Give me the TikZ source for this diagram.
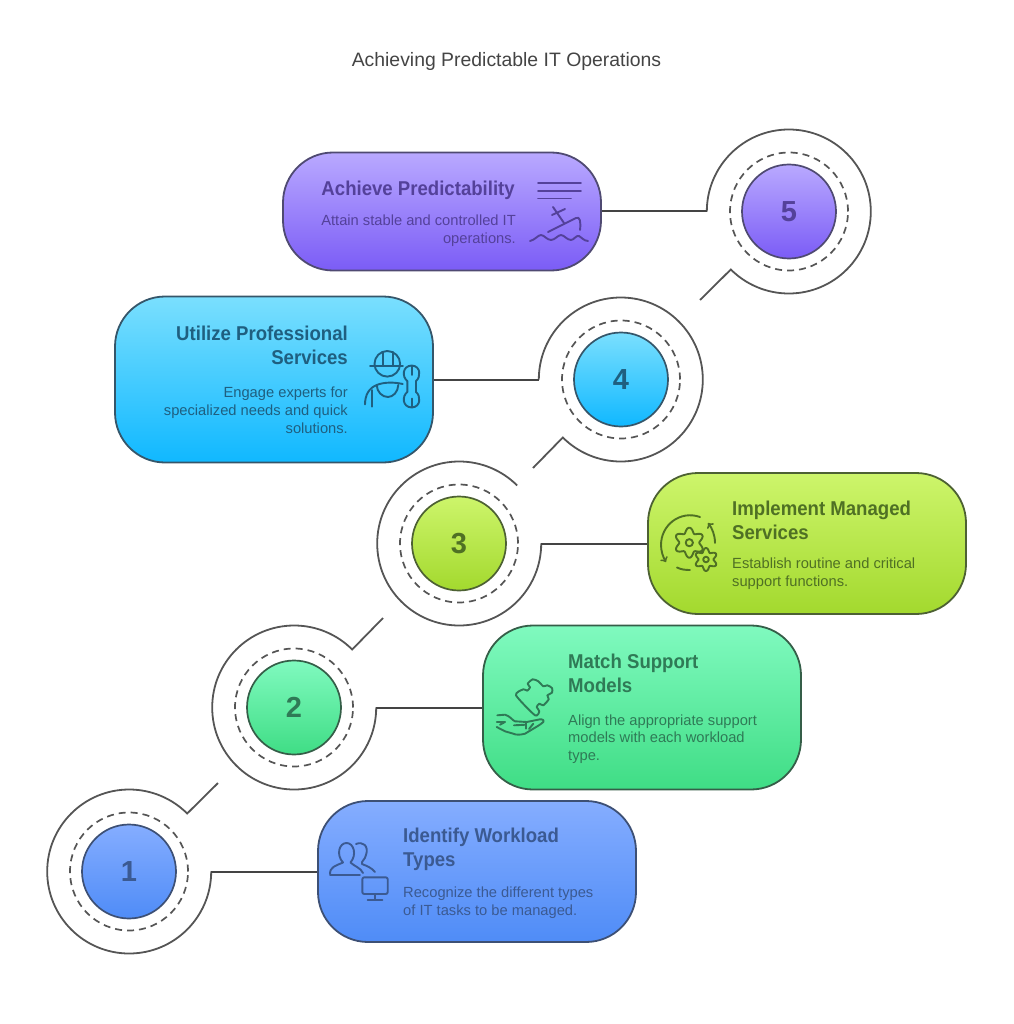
\documentclass[tikz,border=0pt]{standalone}
\usepackage{fontspec}
\setmainfont{Liberation Sans}
\newfontfamily\headfont[FakeStretch=0.93]{Liberation Sans}
\definecolor{ringcolour}{HTML}{555555}
\definecolor{linkcolour}{HTML}{444444}
\definecolor{violettop}{HTML}{B9A9FF}
\definecolor{violetbot}{HTML}{7B5CF6}
\definecolor{violetink}{HTML}{54419A}
\definecolor{violetedge}{HTML}{4F4A72}
\definecolor{skytop}{HTML}{7ADFFE}
\definecolor{skybot}{HTML}{10B8FF}
\definecolor{skyink}{HTML}{1F5F80}
\definecolor{skyedge}{HTML}{35566A}
\definecolor{limetop}{HTML}{CDF56B}
\definecolor{limebot}{HTML}{A3D92E}
\definecolor{limeink}{HTML}{4F7024}
\definecolor{limeedge}{HTML}{4D6133}
\definecolor{minttop}{HTML}{80FABF}
\definecolor{mintbot}{HTML}{3FDD85}
\definecolor{mintink}{HTML}{2F7A56}
\definecolor{mintedge}{HTML}{355E48}
\definecolor{bluetop}{HTML}{85ADFF}
\definecolor{bluebot}{HTML}{4F8CF7}
\definecolor{blueink}{HTML}{3B5A92}
\definecolor{blueedge}{HTML}{3D5075}
\usetikzlibrary{shapes.geometric, arrows}
\tikzstyle{ringspot} = [circle, minimum size=164pt, inner sep=0pt]
\tikzstyle{disc} = [circle, minimum size=94pt, inner sep=0pt, line width=1.7pt, font=\fontsize{29}{29}\selectfont\bfseries]
\tikzstyle{card} = [rectangle, rounded corners=50pt, minimum width=318pt, line width=1.8pt]
\tikzstyle{head} = [inner sep=0pt, font=\fontsize{20}{24}\selectfont\headfont\bfseries]
\tikzstyle{body} = [inner sep=0pt, font=\fontsize{14.7}{17.8}\selectfont]
\tikzstyle{ringline} = [draw=ringcolour, line width=1.8pt]
\tikzstyle{dashring} = [draw=ringcolour, line width=1.7pt, dash pattern=on 7pt off 5pt]
\tikzstyle{link} = [draw=linkcolour, line width=2pt]
\tikzstyle{iconline} = [line width=1.9pt, line cap=round, line join=round]
\newcommand{\gearplot}[5]{\draw [iconline, #5] plot [domain=0:360, samples=145, smooth] ({#1+(#4+(#3-#4)*(0.5-0.5*cos(6*\x)))*cos(\x)}, {#2+(#4+(#3-#4)*(0.5-0.5*cos(6*\x)))*sin(\x)});}
\begin{document}
\begin{tikzpicture}[x=1pt, y=-1pt, node distance=100pt]
	\useasboundingbox (0,0) rectangle (1013,1024);
	\node (title) [inner sep=0pt, text=linkcolour, font=\fontsize{19.4}{22}\selectfont] at (506.5,61) {Achieving Predictable IT Operations};
	
	% rings
	\node (ring1) [ringspot] at (129,871.5) {};
	\node (ring2) [ringspot, right of=ring1, xshift=65pt, yshift=164pt] {};
	\node (ring3) [ringspot, right of=ring2, xshift=65pt, yshift=164pt] {};
	\node (ring4) [ringspot, right of=ring3, xshift=62pt, yshift=164pt] {};
	\node (ring5) [ringspot, right of=ring4, xshift=68pt, yshift=168pt] {};
	\coordinate (tail1) at (218,783);
	\coordinate (tail2) at (383,618);
	\coordinate (tail4) at (533,468);
	\coordinate (tail5) at (700,300);
	\draw [ringline] (ring1.east) arc (0:-315:82pt) -- (tail1);
	\draw [ringline] (ring2.east) arc (0:-315:82pt) -- (tail2);
	\draw [ringline] (ring3.east) arc (0:-315:82pt);
	\draw [ringline] (ring4.west) arc (180:-135:82pt) -- (tail4);
	\draw [ringline] (ring5.west) arc (180:-135:82pt) -- (tail5);
	
	% cards
	\node (card1) [card, right of=ring1, xshift=248pt, minimum height=141pt, top color=bluetop, bottom color=bluebot, draw=blueedge] {};
	\node (card2) [card, right of=ring2, xshift=248pt, minimum height=164pt, top color=minttop, bottom color=mintbot, draw=mintedge] {};
	\node (card3) [card, right of=ring3, xshift=248pt, minimum height=141pt, top color=limetop, bottom color=limebot, draw=limeedge] {};
	\node (card4) [card, left of=ring4, xshift=-247pt, minimum height=166pt, top color=skytop, bottom color=skybot, draw=skyedge] {};
	\node (card5) [card, left of=ring5, xshift=-247pt, minimum height=118pt, top color=violettop, bottom color=violetbot, draw=violetedge] {};
	\draw [link] (ring1.east) -- (card1.west);
	\draw [link] (ring2.east) -- (card2.west);
	\draw [link] (ring3.east) -- (card3.west);
	\draw [link] (ring4.west) -- (card4.east);
	\draw [link] (ring5.west) -- (card5.east);
	
	% discs
	\node (disc1) [disc, top color=bluetop, bottom color=bluebot, draw=blueedge, text=blueink] at (ring1) {1};
	\node (disc2) [disc, top color=minttop, bottom color=mintbot, draw=mintedge, text=mintink] at (ring2) {2};
	\node (disc3) [disc, top color=limetop, bottom color=limebot, draw=limeedge, text=limeink] at (ring3) {3};
	\node (disc4) [disc, top color=skytop, bottom color=skybot, draw=skyedge, text=skyink] at (ring4) {4};
	\node (disc5) [disc, top color=violettop, bottom color=violetbot, draw=violetedge, text=violetink] at (ring5) {5};
	\draw [dashring] (disc1) circle (59pt);
	\draw [dashring] (disc2) circle (59pt);
	\draw [dashring] (disc3) circle (59pt);
	\draw [dashring] (disc4) circle (59pt);
	\draw [dashring] (disc5) circle (59pt);
	
	% texts
	\node (head1) [head, anchor=west, align=left, text=blueink] at (403,849) {Identify Workload\\Types};
	\node (body1) [body, anchor=west, align=left, text=blueink] at (403,903) {Recognize the different types\\of IT tasks to be managed.};
	\node (head2) [head, anchor=west, align=left, text=mintink] at (568,673) {Match Support\\Models};
	\node (body2) [body, anchor=west, align=left, text=mintink] at (568,739) {Align the appropriate support\\models with each workload\\type.};
	\node (head3) [head, anchor=west, align=left, text=limeink] at (732,520) {Implement Managed\\Services};
	\node (body3) [body, anchor=west, align=left, text=limeink] at (732,574) {Establish routine and critical\\support functions.};
	\node (head4) [head, anchor=east, align=right, text=skyink] at (348,345) {Utilize Professional\\Services};
	\node (body4) [body, anchor=east, align=right, text=skyink] at (348,410) {Engage experts for\\specialized needs and quick\\solutions.};
	\node (head5) [head, anchor=east, align=right, text=violetink] at (515,190) {Achieve Predictability};
	\node (body5) [body, anchor=east, align=right, text=violetink] at (516,231) {Attain stable and controlled IT\\operations.};
	
	% ship icon
	\draw [iconline, violetink] (538,183) -- (581,183) (538,191) -- (581,191) (538,198.5) -- (571,198.5);
	\draw [iconline, violetink] (548,232) -- (576,218) .. controls (580,216) and (581,222) .. (580,230);
	\draw [iconline, violetink] (564,223) -- (553,207) (552,215) -- (565,209);
	\draw [iconline, violetink] (530,241) .. controls (535,240) and (538,235) .. (541,235) .. controls (544,235) and (547,240) .. (551,240) .. controls (555,240) and (558,235) .. (561,235) .. controls (564,235) and (567,240) .. (571,240) .. controls (574,240) and (576,235) .. (579,236) .. controls (581,237) and (584,241) .. (588,241);
	
	% worker icon
	\draw [iconline, skyink] (370,365.7) -- (403,365.7);
	\draw [iconline, skyink] (387.3,363.8) circle (12.8pt);
	\draw [iconline, skyink] (382.7,365.7) -- (382.7,352) (392.7,365.7) -- (392.7,352);
	\draw [iconline, skyink] (365,404.5) .. controls (365,395) and (369,388) .. (376.7,385) .. controls (377,392) and (382,397) .. (388,397) .. controls (393,397) and (398,392) .. (398.3,385);
	\draw [iconline, skyink] (376.7,385) .. controls (384,382) and (394,382) .. (402.7,384);
	\draw [iconline, skyink] (371.7,390) -- (371.7,406.7);
	\draw [iconline, skyink] (407.3,381) .. controls (402,377) and (402,366) .. (411.7,365.5) .. controls (421,366) and (421,377) .. (416,381) -- (416,392) .. controls (421,396) and (421,407) .. (411.7,407.5) .. controls (402,407) and (402,396) .. (407.3,392) -- cycle;
	\draw [iconline, skyink] (411.7,366) -- (411.7,375) (411.7,398.5) -- (411.7,407);
	
	% gears icon
	\draw [iconline, limeink, ->, >=to] (700,517) .. controls (680,510) and (661,525) .. (661,545) .. controls (661,551) and (663,557) .. (666,562);
	\draw [iconline, limeink] (677,567.5) .. controls (681,569.5) and (685,570) .. (690,570);
	\draw [iconline, limeink, ->, >=to] (715,543) .. controls (715,535) and (712,528) .. (708,523);
	\gearplot{689.3}{542.7}{15}{10}{limeink}
	\draw [iconline, limeink] (689.3,542.7) circle (3.6pt);
	\gearplot{706}{559.5}{11.5}{7.5}{limeink}
	\draw [iconline, limeink] (706,559.5) circle (2.8pt);
	
	% puzzle and hand icon
	\draw [iconline, mintink] plot [smooth cycle, tension=0.4] coordinates {(516,695.3) (523.3,689.3) (527.3,690.7) (530,687.3) (527.7,683.7) (532.7,679.3) (538.3,681.3) (543.3,686.3) (547.3,685.3) (552,688) (552,692.7) (547.3,695.3) (548.7,699.3) (543.3,705.3) (539.3,703.7) (536.7,707) (539.3,711.3) (535,715.3)};
	\draw [iconline, mintink] (497.3,715.3) -- (505,714.7) .. controls (510,716) and (512,720) .. (515,721.3) -- (526.7,722) -- (540,719.3) .. controls (543,719) and (545,721) .. (543.3,722) .. controls (540,725) and (536,727) .. (533.3,728.7) -- (525,733.7) .. controls (520,735) and (516,735) .. (513.3,733.7) -- (505,731.3) -- (496.7,727);
	\draw [iconline, mintink] (496.7,722) -- (505,722) -- (500,724.7) (514,725.3) -- (526,724.7) (526,722) -- (526,728.7) (533.3,723.7) -- (529,729);
	
	% people and monitor icon
	\draw [iconline, blueink] (330,874) .. controls (330,867) and (335,866) .. (343,862.5) .. controls (336,855) and (339,843) .. (346.5,843) .. controls (354,843) and (357,855) .. (350.5,862.5) .. controls (354,866) and (361,868) .. (363,873);
	\draw [iconline, blueink] (330,875) -- (360,875);
	\draw [iconline, blueink] (356,844) .. controls (363,841) and (369,846) .. (366,855) .. controls (365,860) and (361,861) .. (362,864) .. controls (367,866) and (372,868) .. (375,872);
	\draw [iconline, blueink, rounded corners=2pt] (362.3,877.3) rectangle (387.7,894);
	\draw [iconline, blueink] (375,894) -- (375,900) (367.7,900) -- (382.3,900);
\end{tikzpicture}
\end{document}
